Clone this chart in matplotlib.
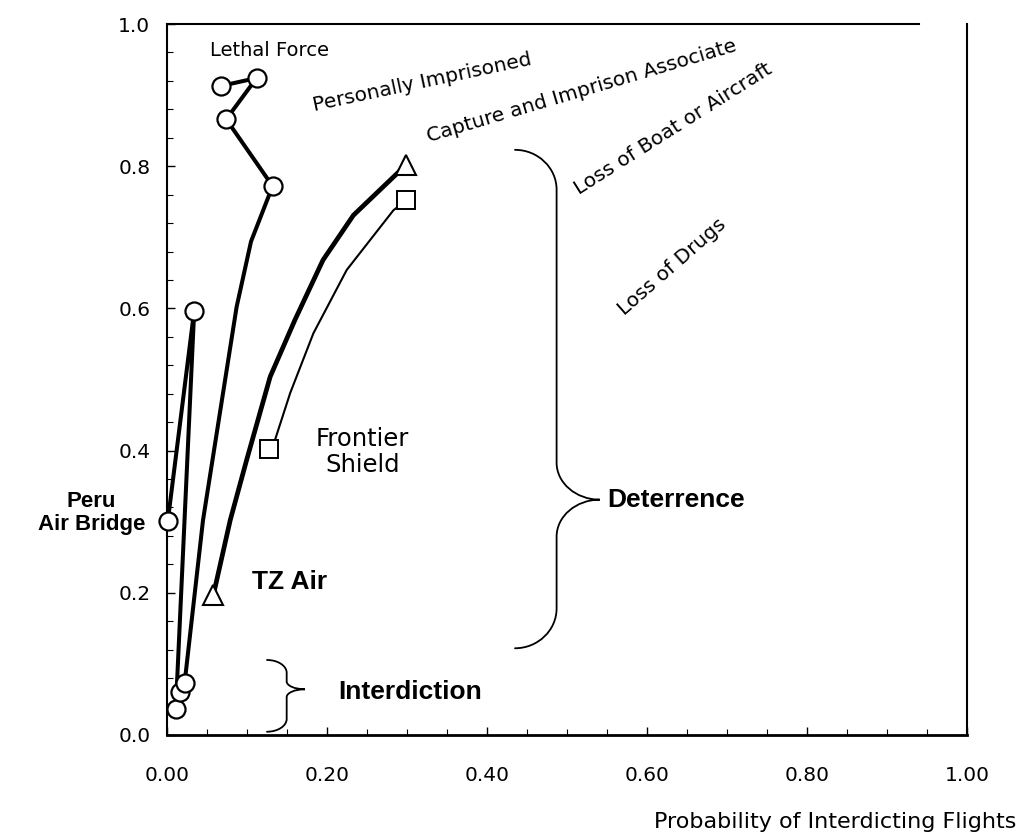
import matplotlib
matplotlib.use("Agg")
import matplotlib.pyplot as plt
from matplotlib.path import Path
from matplotlib.patches import PathPatch

# ---------------- data ----------------
# Peru Air Bridge (circles)
peru_line1_x = [0.001, 0.034, 0.011]
peru_line1_y = [0.301, 0.597, 0.036]
peru_line2_x = [0.022, 0.045, 0.087, 0.105, 0.132, 0.074, 0.112, 0.068]
peru_line2_y = [0.073, 0.302, 0.602, 0.694, 0.772, 0.866, 0.924, 0.913]
peru_pts_x = [0.011, 0.016, 0.022, 0.001, 0.034, 0.132, 0.074, 0.112, 0.068]
peru_pts_y = [0.036, 0.060, 0.073, 0.301, 0.597, 0.772, 0.866, 0.924, 0.913]

# TZ Air (triangles)
tz_x = [0.058, 0.079, 0.0996, 0.129, 0.160, 0.195, 0.233, 0.299]
tz_y = [0.197, 0.302, 0.387, 0.504, 0.584, 0.668, 0.731, 0.802]

# Frontier Shield (squares)
fs_x = [0.1275, 0.135, 0.154, 0.183, 0.2246, 0.283, 0.299]
fs_y = [0.402, 0.415, 0.481, 0.565, 0.654, 0.738, 0.752]

x_major = [0.0, 0.2, 0.4, 0.6, 0.8, 1.0]
x_labels = ["0.00", "0.20", "0.40", "0.60", "0.80", "1.00"]
x_minor = [i * 0.05 for i in range(21)]
y_major = [0.0, 0.2, 0.4, 0.6, 0.8, 1.0]
y_labels = ["0.0", "0.2", "0.4", "0.6", "0.8", "1.0"]
y_minor = [i * 0.04 for i in range(26)]

x_title = "Probability of Interdicting Flights"

# --------------- figure ---------------
fig = plt.figure(figsize=(10.19, 8.40), dpi=100)
ax = fig.add_axes([167 / 1019, 1 - 735 / 840, 800 / 1019, 711 / 840])
ax.set_xlim(0, 1)
ax.set_ylim(0, 1)

reg = "DejaVu Sans"
bold = "Liberation Sans"

# lines
ax.plot(peru_line1_x, peru_line1_y, color="black", lw=2.9, solid_joinstyle="round",
        solid_capstyle="round", clip_on=False, zorder=3)
ax.plot(peru_line2_x, peru_line2_y, color="black", lw=2.9, solid_joinstyle="round",
        solid_capstyle="round", clip_on=False, zorder=3)
ax.plot(peru_pts_x, peru_pts_y, linestyle="none", marker="o", ms=13,
        mfc="white", mec="black", mew=1.6, clip_on=False, zorder=5)

ax.plot(tz_x, tz_y, color="black", lw=3.4, solid_joinstyle="round", zorder=3)
ax.plot([tz_x[0], tz_x[-1]], [tz_y[0], tz_y[-1]], linestyle="none", marker="^",
        ms=14, mfc="white", mec="black", mew=1.5, zorder=5)

ax.plot(fs_x, fs_y, color="black", lw=1.5, solid_joinstyle="round", zorder=3)
ax.plot([fs_x[0], fs_x[-1]], [fs_y[0], fs_y[-1]], linestyle="none", marker="s",
        ms=13, mfc="white", mec="black", mew=1.4, zorder=5)


# braces
def brace(x0, xv, xtip, ytop, ymid, ybot, ry, ry2, lw):
    dx = xv - x0
    dt = xtip - xv
    verts = [
        (x0, ytop),
        (x0 + 0.55 * dx, ytop), (xv, ytop - 0.45 * ry), (xv, ytop - ry),
        (xv, ymid + ry2),
        (xv, ymid + 0.45 * ry2), (xv + 0.45 * dt, ymid), (xtip, ymid),
        (xv + 0.45 * dt, ymid), (xv, ymid - 0.45 * ry2), (xv, ymid - ry2),
        (xv, ybot + ry),
        (xv, ybot + 0.45 * ry), (x0 + 0.55 * dx, ybot), (x0, ybot),
    ]
    codes = [Path.MOVETO,
             Path.CURVE4, Path.CURVE4, Path.CURVE4,
             Path.LINETO,
             Path.CURVE4, Path.CURVE4, Path.CURVE4,
             Path.CURVE4, Path.CURVE4, Path.CURVE4,
             Path.LINETO,
             Path.CURVE4, Path.CURVE4, Path.CURVE4]
    ax.add_patch(PathPatch(Path(verts, codes), fill=False, lw=lw, color="black",
                           capstyle="round"))


brace(0.435, 0.487, 0.541, 0.823, 0.331, 0.122, 0.056, 0.052, 1.3)
brace(0.125, 0.1496, 0.1725, 0.1055, 0.0643, 0.0046, 0.018, 0.011, 1.3)

# annotations
ax.text(0.1275, 0.963, "Lethal Force", family=reg, fontsize=14, ha="center", va="center")
ax.text(0.319, 0.918, "Personally Imprisoned", family=reg, fontsize=14.5, ha="center",
        va="center", rotation=12, rotation_mode="anchor")
ax.text(0.519, 0.905, "Capture and Imprison Associate", family=reg, fontsize=14.5,
        ha="center", va="center", rotation=16.5, rotation_mode="anchor")
ax.text(0.633, 0.852, "Loss of Boat or Aircraft", family=reg, fontsize=14.5,
        ha="center", va="center", rotation=32.3, rotation_mode="anchor")
ax.text(0.631, 0.658, "Loss of Drugs", family=reg, fontsize=14.5,
        ha="center", va="center", rotation=41.2, rotation_mode="anchor")

ax.text(0.2445, 0.398, "Frontier\nShield", family=reg, fontsize=17.5, ha="center",
        va="center", linespacing=1.15)
ax.text(-0.0275, 0.312, "Peru\nAir Bridge", family=bold, fontweight="bold", fontsize=16,
        ha="right", va="center", multialignment="center", linespacing=1.15)
ax.text(0.106, 0.215, "TZ Air", family=bold, fontweight="bold", fontsize=19,
        ha="left", va="center")
ax.text(0.214, 0.060, "Interdiction", family=bold, fontweight="bold", fontsize=19,
        ha="left", va="center")
ax.text(0.55, 0.33, "Deterrence", family=bold, fontweight="bold", fontsize=19,
        ha="left", va="center")

# axes styling
for side in ["left", "bottom", "right", "top"]:
    ax.spines[side].set_linewidth(1.5)
ax.spines["bottom"].set_linewidth(2.0)
ax.spines["top"].set_bounds(0, 0.94)

ax.set_xticks(x_major)
ax.set_xticklabels(x_labels, family=reg, fontsize=14.5)
ax.set_xticks(x_minor, minor=True)
ax.set_yticks(y_major)
ax.set_yticklabels(y_labels, family=reg, fontsize=14.5)
ax.set_yticks(y_minor, minor=True)
ax.tick_params(axis="both", which="major", direction="in", length=6, width=1.0)
ax.tick_params(axis="both", which="minor", direction="in", length=4, width=0.8)
ax.tick_params(axis="x", which="major", pad=22)
ax.tick_params(axis="y", which="major", pad=12)
ax.tick_params(top=False, right=False, which="both")

fig.text(1016 / 1019, 1 - 822 / 840, x_title, family=reg, fontsize=16,
         ha="right", va="center")

fig.savefig("out.png", dpi=100, facecolor="white")
